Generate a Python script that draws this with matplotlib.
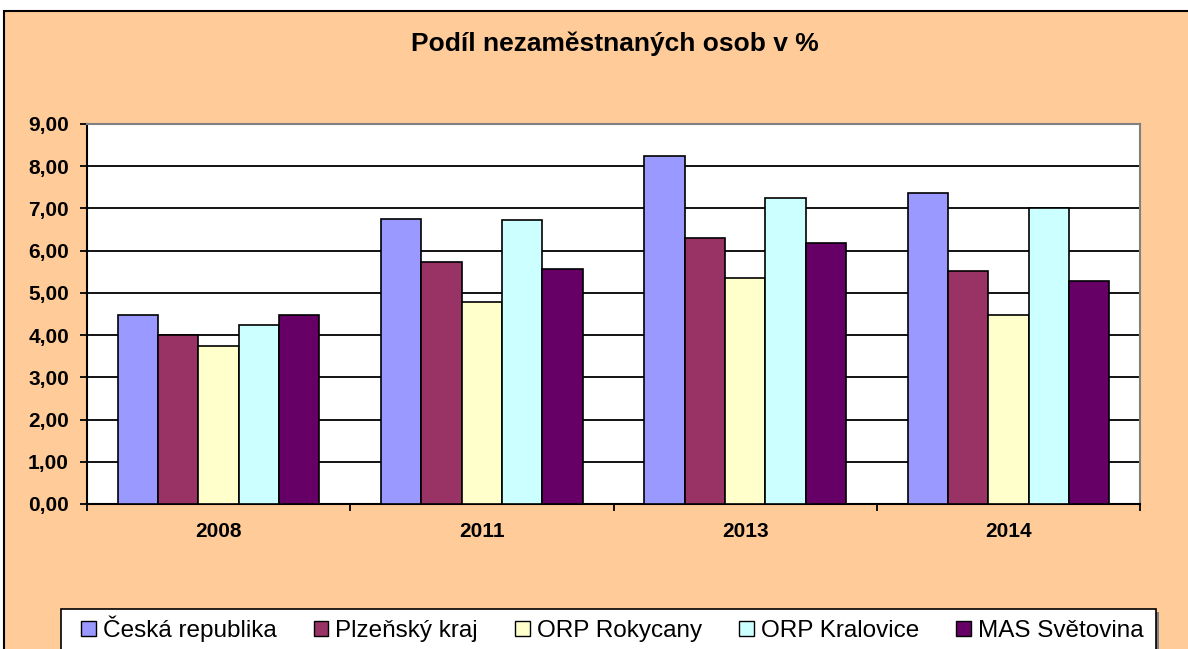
import numpy as np
import matplotlib
matplotlib.use("Agg")
import matplotlib.pyplot as plt
from matplotlib.patches import Rectangle, Patch
from matplotlib.ticker import FixedLocator, FuncFormatter

plt.rcParams['font.family'] = ['Liberation Sans', 'DejaVu Sans']

years = ["2008", "2011", "2013", "2014"]
series = ["Česká republika", "Plzeňský kraj", "ORP Rokycany", "ORP Kralovice", "MAS Světovina"]
cr = [4.48, 6.75, 8.24, 7.37]
plzen = [4.00, 5.73, 6.30, 5.52]
rokycany = [3.74, 4.79, 5.36, 4.47]
kralovice = [4.24, 6.72, 7.25, 7.02]
mas = [4.48, 5.57, 6.19, 5.29]
colors = ["#9999FF", "#993366", "#FFFFCC", "#CCFFFF", "#660066"]

W, H = 1188, 649
fig = plt.figure(figsize=(W / 100, H / 100), dpi=100, facecolor="white")

# chart area (peach background with black border, runs off the right/bottom)
fig.add_artist(Rectangle((4 / W, -0.1), 1.2, (1 - 11 / H) + 0.1, transform=fig.transFigure,
                         facecolor="#FFCC99", edgecolor="black", lw=1.5, zorder=0))

ax = fig.add_axes([87 / W, 1 - 504 / H, (1140 - 87) / W, (504 - 124) / H])
ax.set_facecolor("white")

x = np.arange(len(years))
bw = 0.153
data = [cr, plzen, rokycany, kralovice, mas]
for i, vals in enumerate(data):
    ax.bar(x + (i - 2) * bw, vals, bw, color=colors[i], edgecolor="black", lw=1.2,
           label=series[i], zorder=3)

ax.set_xlim(-0.5, len(years) - 0.5)
ax.set_ylim(0, 9)
ax.yaxis.set_major_locator(FixedLocator(np.arange(0, 10)))
ax.yaxis.set_major_formatter(FuncFormatter(lambda v, p: ("%.2f" % v).replace(".", ",")))
ax.yaxis.grid(True, color="black", lw=1.3, zorder=0)
ax.set_axisbelow(True)

ax.xaxis.set_major_locator(FixedLocator(np.arange(-0.5, len(years))))
ax.xaxis.set_major_formatter(FuncFormatter(lambda v, p: ""))
ax.xaxis.set_minor_locator(FixedLocator(x))
ax.set_xticks(x, years, minor=True)
ax.tick_params(axis="x", which="major", length=5, width=1.3, direction="out")
ax.tick_params(axis="x", which="minor", length=0, pad=13, labelsize=15)
ax.tick_params(axis="y", length=5, width=1.3, pad=8, labelsize=15)
for lab in ax.get_xticklabels(minor=True) + ax.get_yticklabels():
    lab.set_fontweight("bold")

for s in ["left", "bottom"]:
    ax.spines[s].set_color("black")
    ax.spines[s].set_linewidth(1.5)
for s in ["top", "right"]:
    ax.spines[s].set_color("#808080")
    ax.spines[s].set_linewidth(1.5)

fig.text(615 / W, 1 - 44 / H, "Podíl nezaměstnaných osob v %", fontsize=19,
         fontweight="bold", ha="center", va="center")

# legend frame with shadow
fig.add_artist(Rectangle((64 / W, -0.1), (1159 - 64) / W, (1 - 612 / H) + 0.1,
                         transform=fig.transFigure, facecolor="#808080", lw=0, zorder=1))
fig.add_artist(Rectangle((61 / W, -0.1), (1156 - 61) / W, (1 - 609 / H) + 0.1,
                         transform=fig.transFigure, facecolor="white", edgecolor="black",
                         lw=1.2, zorder=1))
handles = [Patch(facecolor=c, edgecolor="black", lw=1.0) for c in colors]
leg = fig.legend(handles, series, loc="center left", bbox_to_anchor=(81 / W, 1 - 629 / H),
                 ncol=5, frameon=False, fontsize=17.5, borderpad=0, borderaxespad=0,
                 handlelength=0.6, handleheight=0.6, handletextpad=0.3, columnspacing=1.52)
leg.set_zorder(2)

fig.savefig("out.png", dpi=100)
